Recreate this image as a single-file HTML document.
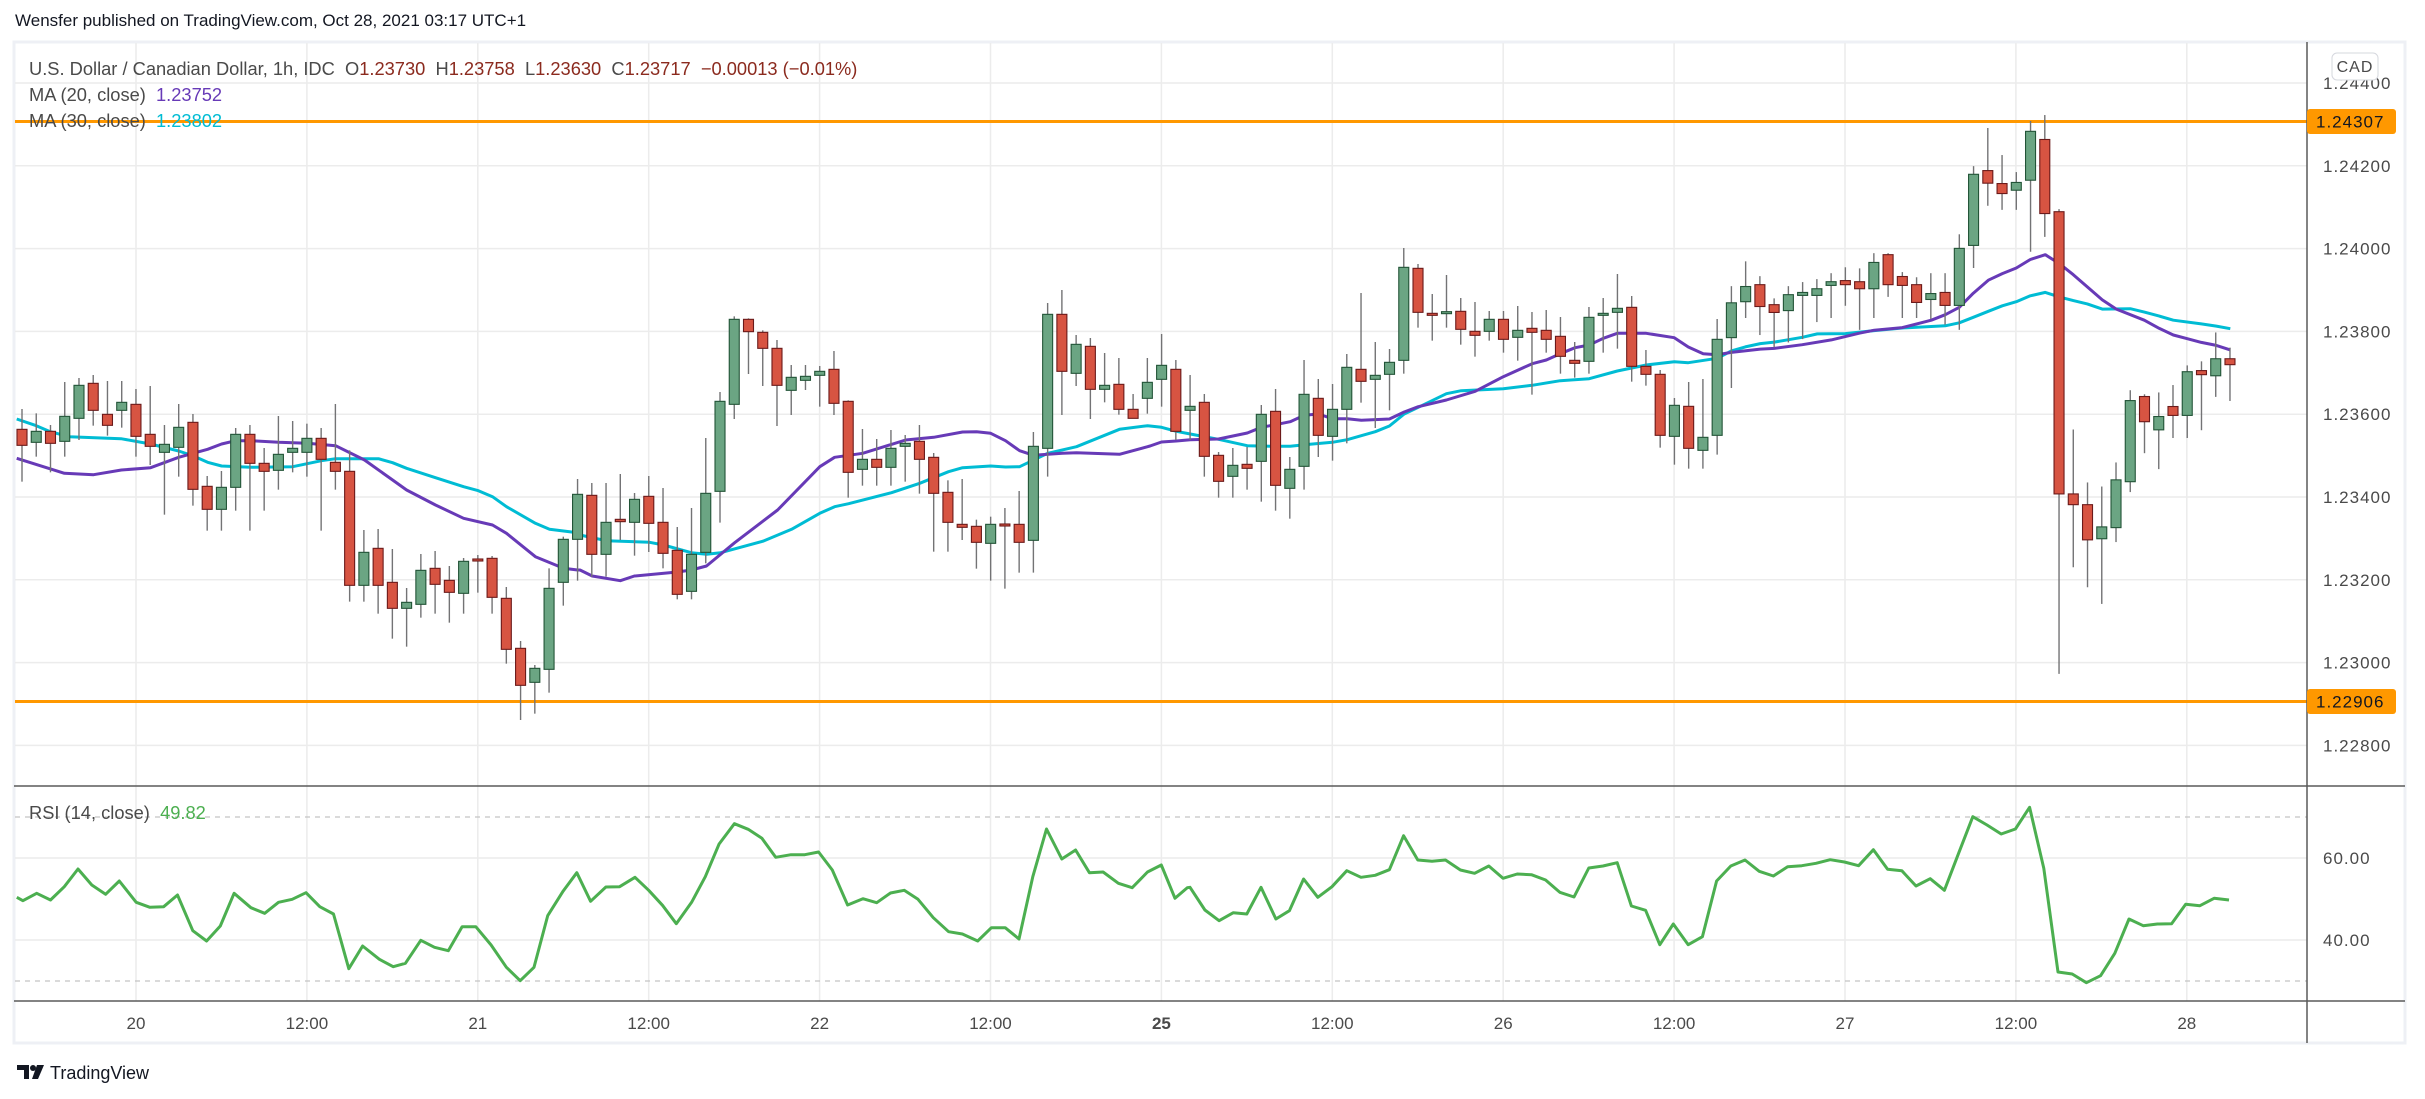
<!DOCTYPE html>
<html><head><meta charset="utf-8"><style>
html,body{margin:0;padding:0;background:#fff;}
body{width:2425px;height:1099px;overflow:hidden;position:relative;font-family:"Liberation Sans",sans-serif;}
svg{position:absolute;left:0;top:0;}
</style></head><body>
<svg id="s" width="2425" height="1099" xmlns="http://www.w3.org/2000/svg">
<rect x="0" y="0" width="2425" height="1099" fill="#fff"/>
<rect x="14" y="42" width="2391" height="1001" fill="#fff" stroke="#eef0f5" stroke-width="3"/>
<g id="grid"></g>
<g id="main"></g>
<line x1="14" y1="786" x2="2405" y2="786" stroke="#5a5a5a" stroke-width="1.5"/>
<line x1="14" y1="1001" x2="2405" y2="1001" stroke="#5a5a5a" stroke-width="1.5"/>
<line x1="2307" y1="42" x2="2307" y2="1043" stroke="#5a5a5a" stroke-width="1.5"/>
<g font-family="Liberation Sans, sans-serif" font-size="18.3" fill="#131722">
<text x="15" y="26" font-size="17" fill="#131722">Wensfer published on TradingView.com, Oct 28, 2021 03:17 UTC+1</text>
<text x="29" y="75" fill="#4a4a4a">U.S. Dollar / Canadian Dollar, 1h, IDC&#160;&#160;O<tspan fill="#8b2a1e">1.23730</tspan>&#160;&#160;H<tspan fill="#8b2a1e">1.23758</tspan>&#160;&#160;L<tspan fill="#8b2a1e">1.23630</tspan>&#160;&#160;C<tspan fill="#8b2a1e">1.23717</tspan>&#160;&#160;<tspan fill="#8b2a1e">−0.00013 (−0.01%)</tspan></text>
<text x="29" y="101" fill="#4a4a4a">MA (20, close)&#160;&#160;<tspan fill="#673ab7">1.23752</tspan></text>
<text x="29" y="127" fill="#4a4a4a">MA (30, close)&#160;&#160;<tspan fill="#00bcd4">1.23802</tspan></text>
<text x="29" y="819" fill="#4a4a4a">RSI (14, close)&#160;&#160;<tspan fill="#4caf50">49.82</tspan></text>
</g>
<g id="axis" font-family="Liberation Sans, sans-serif" font-size="17" fill="#4a4a4a" letter-spacing="1"></g>
<rect x="2332" y="53" width="46" height="27" rx="5" fill="#fff" stroke="#d6d8de"/>
<text x="2355" y="72" font-family="Liberation Sans, sans-serif" font-size="16" fill="#4a4a4a" text-anchor="middle" letter-spacing="1">CAD</text>
<g id="logo">
<path d="M17 1065 h12 v14 h-5 v-9 h-7z" fill="#131722"/>
<circle cx="33" cy="1068" r="3" fill="#131722"/>
<path d="M37 1065 h7 l-6 14 h-6z" fill="#131722"/>
<text x="50" y="1079" font-family="Liberation Sans, sans-serif" font-size="18" fill="#131722">TradingView</text>
</g>
</svg>
<script>
const NS="http://www.w3.org/2000/svg";
function el(p,t,a){const e=document.createElementNS(NS,t);for(const k in a)e.setAttribute(k,a[k]);p.appendChild(e);return e;}
const G=document.getElementById('grid'),M=document.getElementById('main'),A=document.getElementById('axis');
const py=p=>83+(1.244-p)/0.002*82.8;
const prices=[1.244,1.242,1.240,1.238,1.236,1.234,1.232,1.230,1.228];
prices.forEach(p=>{const y=py(p);el(G,'line',{x1:15,y1:y,x2:2307,y2:y,stroke:'#ececec','stroke-width':1.5});});
for(let k=0;k<13;k++){const x=136+k*170.9;el(G,'line',{x1:x,y1:43,x2:x,y2:1001,stroke:'#ececec','stroke-width':1.5});}
[858,940].forEach(y=>el(G,'line',{x1:15,y1:y,x2:2307,y2:y,stroke:'#ececec','stroke-width':1.5}));
[817,981].forEach(y=>el(G,'line',{x1:15,y1:y,x2:2307,y2:y,stroke:'#c4c4c4','stroke-width':1.3,'stroke-dasharray':'5 5'}));
prices.forEach(p=>{const t=el(A,'text',{x:2323,y:py(p)+6});t.textContent=p.toFixed(5);});
[[858,'60.00'],[940,'40.00']].forEach(([y,s])=>{const t=el(A,'text',{x:2323,y:y+6});t.textContent=s;});
const tl=['20','12:00','21','12:00','22','12:00','25','12:00','26','12:00','27','12:00','28'];
tl.forEach((s,k)=>{const t=el(A,'text',{x:136+k*170.9,y:1029,'text-anchor':'middle','letter-spacing':0});if(s==='25')t.setAttribute('font-weight','bold');t.textContent=s;});
[[1.24307,'1.24307'],[1.22906,'1.22906']].forEach(([p,s])=>{const y=py(p);
el(M,'line',{x1:15,y1:y,x2:2307,y2:y,stroke:'#ff9800','stroke-width':3});
el(A,'rect',{x:2307,y:y-12.5,width:89,height:25,rx:3,fill:'#ff9800'});
const t=el(A,'text',{x:2316,y:y+6,fill:'#131722'});t.textContent=s;});
const segs=[
 {y0:240,k:3,start:1,d:[
 ['r',568,616,507,725],['g',574,607,520,650],['r',574,610,555,697],['g',529,604,426,650],['g',436,535,414,600],['r',430,511,405,557],['r',523,556,423,587],['g',487,511,423,563],['r',493,589,447,650],['r',583,619,438,675],
 ['g',613,637,555,824],['g',562,622,492,710],['r',547,748,522,797],['r',739,808,708,872],['g',742,808,693,872],['g',583,742,564,812],['r',583,670,555,872],['r',670,694,624,812],['g',643,691,528,749],['g',625,637,543,697],
 ['g',595,637,551,710],['r',595,658,564,872],['r',667,694,492,749],['r',694,1036,631,1085],['g',937,1036,870,1085],['r',925,1036,867,1121],['r',1027,1105,927,1196],['g',1087,1105,1044,1220],['g',991,1093,942,1133],['r',985,1033,933,1121],
 ['r',1021,1057,978,1148],['g',964,1060,954,1121],['r',957,960,945,1058],['r',955,1072,948,1121],['r',1075,1228,1041,1271],['r',1225,1336,1203,1440],['g',1285,1327,1275,1421],['g',1045,1288,985,1358],['g',898,1027,890,1097],['g',763,898,717,1022]]},
 {y0:220,k:3,start:41,d:[
 ['r',826,1003,789,1070],['g',907,1003,789,1070],['r',898,905,762,960],['g',838,907,819,1007],['r',829,910,768,996],['r',907,1000,804,1045],['r',991,1123,921,1138],['g',1003,1114,864,1138],['g',820,997,654,1030],['g',544,814,516,908],
 ['g',298,553,289,597],['r',298,335,295,462],['r',337,385,331,498],['r',385,496,360,618],['g',472,511,435,585],['g',469,481,435,510],['g',454,466,438,560],['r',448,550,393,585],['r',544,757,541,833],['g',718,748,627,797],
 ['r',718,742,657,797],['g',685,742,630,797],['g',670,679,645,785],['r',664,718,615,821],['r',712,820,699,995],['r',817,907,781,995],['r',913,922,777,960],['r',919,967,899,1046],['g',913,970,890,1082],['r',912,915,864,1106],
 ['r',913,967,813,1058],['g',679,961,636,1058],['g',283,685,249,770],['r',283,454,210,585],['g',373,460,345,498],['r',379,508,354,597],['g',496,508,399,547],['r',493,568,414,584],['r',568,595,522,581],['g',487,535,414,581]]},
 {y0:230,k:3,start:81,d:[
 ['g',406,448,312,530],['r',418,604,390,630],['g',529,541,435,630],['r',517,679,492,740],['r',676,754,666,803],['g',706,739,654,803],['r',703,715,651,779],['g',553,694,525,815],['r',544,766,477,842],['g',718,775,681,866],
 ['g',493,709,390,779],['r',505,616,447,681],['g',538,619,462,692],['g',412,538,372,640],['r',418,454,189,518],['g',436,448,336,594],['g',397,433,357,541],['g',112,391,54,431],['r',115,247,102,293],['r',250,256,192,332],
 ['g',245,249,135,293],['r',244,298,204,344],['r',304,316,216,380],['g',268,304,243,332],['r',268,328,243,368],['g',301,322,228,392],['r',295,307,246,494],['r',301,328,240,368],['r',319,379,261,431],['r',391,400,336,443],
 ['g',262,394,231,431],['g',250,253,204,368],['g',235,247,132,356],['r',232,409,198,455],['r',409,433,360,467],['r',433,616,420,653],['g',526,619,504,704],['r',529,655,456,716],['g',622,661,447,716],['g',328,616,267,674]]},
 {y0:98,k:2.7,start:121,d:[
 ['g',553,647,508,783],['g',509,550,441,594],['r',504,563,481,640],['r',558,579,541,673],['g',531,574,508,660],['g',525,533,497,651],['g',515,533,489,605],['g',496,506,473,594],['r',493,504,457,561],['r',496,515,460,626],
 ['g',444,515,419,594],['r',423,504,419,537],['r',482,506,470,594],['r',504,552,484,594],['g',528,544,473,597],['r',525,560,473,612],['g',406,560,368,626],['g',206,398,184,459],['r',196,230,81,291],['r',231,258,154,302],
 ['g',228,249,200,302],['g',90,222,62,415],['r',112,312,46,375],['r',307,1069,300,1555],['r',1069,1098,895,1267],['r',1098,1193,1038,1321],['g',1158,1190,1049,1366],['g',1031,1160,984,1199],['g',817,1036,789,1064],['r',806,874,800,959],
 ['g',860,896,795,1002],['r',833,857,775,918],['g',739,857,722,918],['r',736,747,711,897],['g',704,750,633,807],['r',704,720,674,818]]}
];
const bx=i=>22+(i-1)*14.245;
const CW=el(M,'g',{}),CB=el(M,'g',{});
segs.forEach(s=>{s.d.forEach((b,j)=>{const i=s.start+j,x=bx(i),f=v=>s.y0+v/s.k;
 el(CW,'line',{x1:x,y1:f(b[3]),x2:x,y2:f(b[4]),stroke:'#737375','stroke-width':1.4});
 let t=f(b[1]),h=Math.max(f(b[2])-t,2);
 el(CB,'rect',{x:x-5,y:t,width:10,height:h,fill:b[0]=='g'?'#6ba583':'#d75442',stroke:b[0]=='g'?'#225437':'#6b1a1a','stroke-width':1.1});
});});
function seg(x0,sx,y0,k,pts){return pts.map(p=>[x0+p[0]*sx,y0+p[1]/k]);}
const ma20=[].concat(
 seg(10,0.37,240,3,[[18,655],[147,700],[226,704],[301,690],[380,683],[456,652],[534,628],[572,612],[610,602],[650,602],[726,607],[804,610],[880,617],[958,660],[1034,720],[1072,750],[1150,795],[1226,835],[1304,855],[1342,880],[1420,950],[1496,985],[1534,990]]),
 seg(580,0.37,220,3,[[0,1050],[33,1068],[109,1082],[147,1068],[263,1056],[301,1050],[342,1038],[418,968],[534,870],[648,740],[688,712],[764,700],[880,660],[956,652],[1034,636],[1072,635],[1110,640],[1150,662],[1188,692],[1226,706],[1304,700],[1342,698],[1458,703],[1534,680]]),
 seg(1150,0.37,230,3,[[0,648],[31,636],[71,633],[109,629],[185,627],[263,609],[301,592],[339,584],[379,575],[417,556],[455,552],[493,566],[533,566],[571,571],[647,567],[687,546],[725,530],[801,510],[879,484],[955,440],[1033,401],[1071,390],[1109,371],[1149,353],[1187,345],[1225,325],[1263,310],[1341,310],[1417,323],[1455,351],[1495,371],[1533,374]]),
 seg(1720,1/3,98,2.7,[[34,687],[121,678],[163,676],[247,666],[334,653],[418,635],[463,627],[547,620],[634,600],[676,585],[718,565],[760,527],[805,492],[847,474],[889,459],[931,436],[976,423],[1018,447],[1060,477],[1102,510],[1147,545],[1189,570],[1273,600],[1318,622],[1360,640],[1402,650],[1444,660],[1489,668],[1531,680]]));
const ma30=[].concat(
 seg(10,0.37,240,3,[[18,537],[71,557],[109,575],[160,590],[300,596],[380,612],[456,633],[496,648],[534,667],[572,678],[650,682],[764,680],[842,662],[880,656],[996,656],[1034,668],[1072,685],[1150,713],[1226,740],[1266,752],[1304,770],[1342,800],[1420,850],[1458,868],[1534,878]]),
 seg(580,0.37,220,3,[[0,945],[71,962],[188,967],[226,975],[301,998],[342,1003],[380,998],[496,963],[572,928],[648,880],[688,860],[726,851],[842,818],[918,790],[996,755],[1034,743],[1110,738],[1150,741],[1188,740],[1264,700],[1342,680],[1458,628],[1534,617]]),
 seg(1150,0.37,230,3,[[0,588],[31,592],[71,604],[109,612],[185,628],[263,647],[339,649],[379,649],[417,644],[493,637],[533,629],[609,605],[647,588],[687,552],[725,532],[801,491],[841,482],[955,476],[1033,466],[1109,452],[1187,446],[1263,423],[1341,405],[1417,395],[1455,398],[1533,385]]),
 seg(1720,1/3,98,2.7,[[34,683],[76,672],[121,663],[163,659],[247,646],[292,637],[376,636],[463,628],[547,621],[634,617],[676,615],[718,607],[760,592],[805,576],[847,561],[889,550],[931,534],[976,525],[1018,537],[1060,547],[1102,556],[1147,570],[1231,569],[1273,578],[1318,589],[1360,600],[1444,610],[1489,616],[1531,623]]));
const pl=(pts,c,w)=>el(M,'polyline',{points:pts.map(p=>p[0].toFixed(1)+','+p[1].toFixed(1)).join(' '),fill:'none',stroke:c,'stroke-width':w,'stroke-linejoin':'round'});
M.insertBefore(pl(ma30,'#00bcd4',3),CW);M.insertBefore(pl(ma20,'#673ab7',3),CW);
const rsiA=[[22,412],[30,422],[48,400],[66,420],[84,380],[102,327],[120,375],[138,403],[156,363],[178,427],[196,442],[214,440],[232,405],[252,512],[270,543],[288,498],[306,400],[328,443],[346,460],[364,427],[382,418],[400,398],[418,440],[436,462],[456,626],[474,558],[496,598],[514,620],[530,610],[550,541],[568,562],[586,572],[604,500],[622,500],[642,555],[662,622],[680,662],[698,622],[716,467],[736,394],[754,338],[772,424],[792,381],[810,380],[830,352],[848,391],[866,436],[884,491],[904,427],[922,350],[940,252],[960,191],[978,208],[996,235],[1014,292],[1034,284],[1052,284],[1070,276],[1088,330],[1108,435],[1128,416],[1146,428],[1164,399],[1182,391],[1200,418],[1220,473],[1240,515],[1258,522],[1278,543],[1296,503],[1314,503],[1332,537],[1350,350],[1368,207],[1388,297],[1406,270],[1424,338],[1442,336],[1462,370],[1480,383],[1500,336],[1518,315],[1536,415],[1552,383]].map(p=>[p[0]*0.765,760+p[1]/3]);
const rsiB=[[0,262],[22,330],[43,362],[64,338],[84,342],[105,262],[127,357],[147,332],[168,237],[189,292],[210,260],[232,212],[253,232],[274,226],[295,209],[316,107],[337,180],[358,184],[378,180],[400,210],[421,220],[442,198],[463,235],[484,222],[505,224],[526,240],[547,277],[568,291],[590,204],[611,198],[632,188],[653,318],[674,331],[695,434],[715,372],[737,434],[758,410],[779,243],[800,198],[821,180],[842,214],[863,228],[884,200],[905,197],[926,190],[947,179],[968,186],[989,197],[1011,149],[1032,208],[1053,212],[1074,258],[1095,236],[1116,271],[1137,160],[1158,50],[1179,75],[1200,102],[1221,87],[1242,22],[1263,205],[1284,516],[1305,522],[1326,548],[1347,527],[1368,460],[1389,357],[1410,377],[1431,372],[1452,371],[1473,313],[1494,317],[1515,295],[1537,300]].map(p=>[1190+p[0]*0.676,800+p[1]/3]);
pl(rsiA.concat(rsiB),'#4caf50',3);
</script>
</body></html>
